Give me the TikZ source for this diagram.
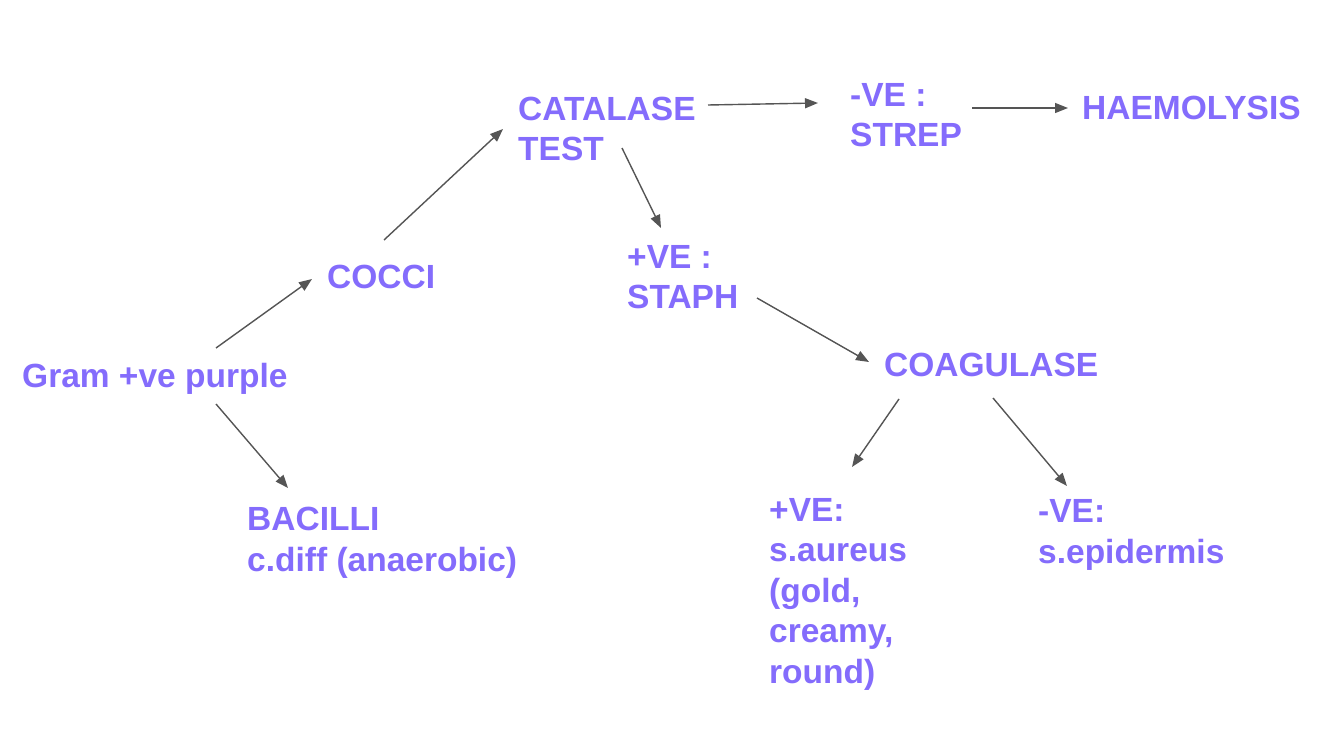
\documentclass[tikz,border=0pt]{standalone}
\usepackage{fontspec}
\setmainfont{Liberation Sans}
\usetikzlibrary{arrows.meta}
\definecolor{txtpurple}{RGB}{132,108,252}
\definecolor{arrgray}{RGB}{85,85,85}
\tikzset{
  lbl/.style={anchor=base west, inner sep=0pt, align=left, text=txtpurple,
    font=\fontsize{33.5}{40.5}\selectfont\bfseries},
  conn/.style={draw=arrgray, line width=1.4pt, -{Triangle[length=13pt,width=10pt]}}
}
\begin{document}
\begin{tikzpicture}[x=1pt,y=-1pt]
\useasboundingbox[fill=white] (0,0) rectangle (1334,751);
% nodes (multi-line nodes are placed by the baseline of their last line)
\node[lbl] (gram) at (22,388) {Gram +ve purple};
\node[lbl] (cocci) at (327,289) {COCCI};
\node[lbl] (bacilli) at (247,571) {BACILLI\\c.diff (anaerobic)};
\node[lbl] (catalase) at (518,161) {CATALASE\\TEST};
\node[lbl] (strep) at (850,147) {-VE :\\STREP};
\node[lbl] (haem) at (1082,120) {HAEMOLYSIS};
\node[lbl] (staph) at (627,309) {+VE :\\STAPH};
\node[lbl] (coag) at (884,377) {COAGULASE};
\node[lbl] (aureus) at (769,683) {+VE:\\s.aureus\\(gold,\\creamy,\\round)};
\node[lbl] (epi) at (1038,563) {-VE:\\s.epidermis};
% connector end points
\coordinate (gram-a) at (216,348);   \coordinate (cocci-in) at (312,279);
\coordinate (gram-b) at (216,404);   \coordinate (bacilli-in) at (288,488);
\coordinate (cocci-out) at (384,240); \coordinate (catalase-in) at (503,129);
\coordinate (catalase-a) at (708,105); \coordinate (strep-in) at (818,103);
\coordinate (catalase-b) at (622,148); \coordinate (staph-in) at (661,228);
\coordinate (strep-out) at (972,108); \coordinate (haem-in) at (1068,108);
\coordinate (staph-out) at (757,298); \coordinate (coag-in) at (869,362);
\coordinate (coag-a) at (899,399); \coordinate (aureus-in) at (852,467);
\coordinate (coag-b) at (993,398); \coordinate (epi-in) at (1067,486);
% connectors
\draw[conn] (gram-a) -- (cocci-in);
\draw[conn] (gram-b) -- (bacilli-in);
\draw[conn] (cocci-out) -- (catalase-in);
\draw[conn] (catalase-a) -- (strep-in);
\draw[conn] (catalase-b) -- (staph-in);
\draw[conn] (strep-out) -- (haem-in);
\draw[conn] (staph-out) -- (coag-in);
\draw[conn] (coag-a) -- (aureus-in);
\draw[conn] (coag-b) -- (epi-in);
\end{tikzpicture}
\end{document}
